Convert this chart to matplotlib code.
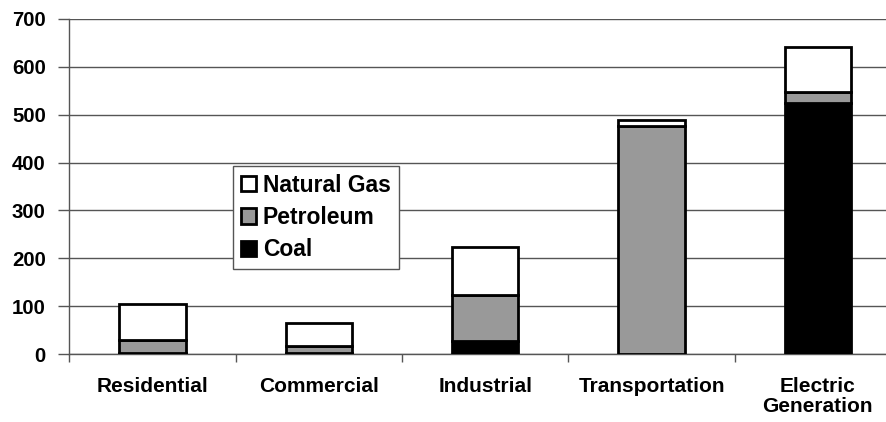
#!/usr/bin/env python3
import numpy as np
import matplotlib
matplotlib.use('Agg')
from matplotlib import pyplot as plt

sectors = ['Residential', 'Commercial', 'Industrial', 'Transportation', 'Electric\nGeneration']
coal = [2, 3, 28, 0, 524]
petroleum = [27, 14, 95, 476, 23]
natural_gas = [75, 48, 101, 13, 94]

plt.rcParams['font.family'] = ['Liberation Sans', 'DejaVu Sans']
plt.rcParams['font.weight'] = 'bold'

fig = plt.figure(figsize=(8.86, 4.22), dpi=100)
ax = fig.add_axes([0.0784, 0.161, 0.9385, 0.794])

x = np.arange(len(sectors))
coal = np.array(coal)
petroleum = np.array(petroleum)
natural_gas = np.array(natural_gas)
w = 0.40
bar_kw = dict(width=w, edgecolor='black', linewidth=2.0, zorder=3)
ax.bar(x, coal, color='black', label='Coal', **bar_kw)
ax.bar(x, petroleum, bottom=coal, color='#999999', label='Petroleum', **bar_kw)
ax.bar(x, natural_gas, bottom=coal + petroleum, color='white', label='Natural Gas', **bar_kw)

ax.set_xlim(-0.5, len(sectors) - 0.5)
ax.set_ylim(0, 700)
ax.set_yticks(range(0, 701, 100))
ax.yaxis.grid(True, color='#555555', linewidth=1.0, zorder=0)
ax.set_axisbelow(True)

ax.set_xticks(x)
ax.set_xticklabels(sectors, fontsize=15, fontweight='bold', linespacing=1.1)
ax.set_xticks(np.arange(len(sectors)) - 0.5, minor=True)
ax.tick_params(axis='x', which='major', length=0, pad=16.5)
ax.tick_params(axis='x', which='minor', length=6, color='#555555', width=1.0)
ax.tick_params(axis='y', length=8, color='#555555', width=1.0, labelsize=14.7, pad=9)
for lbl in ax.get_yticklabels():
    lbl.set_fontweight('bold')

for s in ['top', 'right']:
    ax.spines[s].set_visible(False)
for s in ['left', 'bottom']:
    ax.spines[s].set_color('#555555')
    ax.spines[s].set_linewidth(1.0)

handles, labels = ax.get_legend_handles_labels()
leg = fig.legend(handles[::-1], labels[::-1], loc='upper left',
                 bbox_to_anchor=(0.263, 0.607), fancybox=False, framealpha=1,
                 edgecolor='#555555', prop={'size': 16.5, 'weight': 'bold'},
                 handlelength=0.65, handleheight=0.65, handletextpad=0.3,
                 labelspacing=0.4, borderpad=0.35, borderaxespad=0)
leg.get_frame().set_linewidth(1.0)

fig.savefig('out.png', dpi=100)
